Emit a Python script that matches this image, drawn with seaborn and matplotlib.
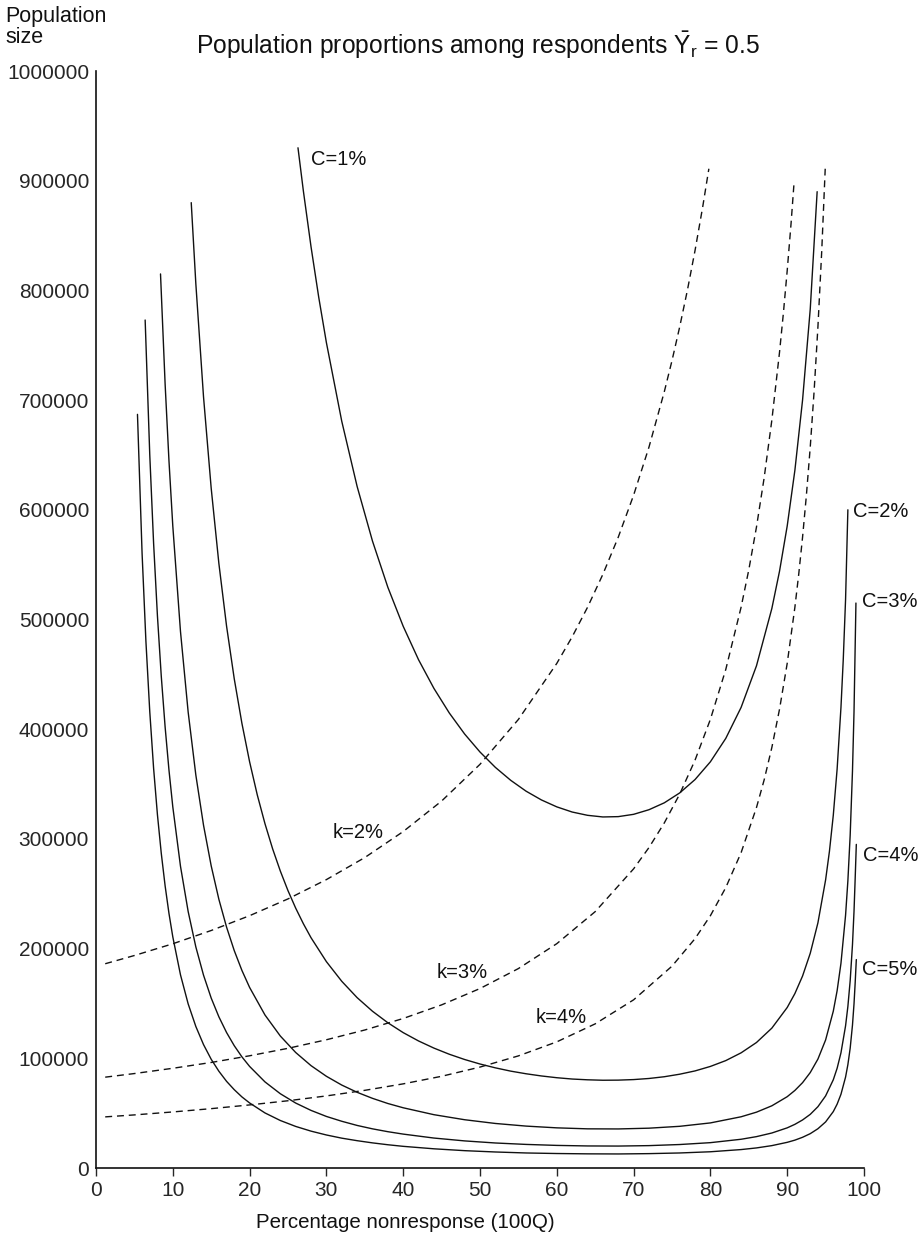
import pandas as pd
import matplotlib
matplotlib.use('Agg')
import matplotlib.pyplot as plt
import seaborn as sns

# solid curves: C = 1% .. 5%  (x = percentage nonresponse, y = population size)
c1_x = [26.3, 27, 28, 29, 30, 32, 34, 36, 38, 40, 42, 44, 46, 48, 50, 52, 54, 56, 58, 60, 62, 64, 66, 68, 70, 72,
        74, 76, 78, 80, 82, 84, 86, 88, 89, 90, 91, 92, 93, 93.9]
c1_y = [930000, 890700, 839700, 793800, 752400, 680700, 621300, 571500, 529400, 493800, 463300, 437200, 414800,
        395600, 379200, 365200, 353400, 343500, 335500, 329200, 324500, 321500, 320000, 320300, 322400, 326600,
        332900, 341900, 354100, 370300, 391600, 419900, 457800, 510000, 544000, 585200, 636000, 700000, 782900,
        890000]

c2_x = [12.4, 13, 14, 15, 16, 17, 18, 19, 20, 21, 22, 23, 24, 25, 26, 27, 28, 30, 32, 34, 36, 38, 40, 42, 44, 46,
        48, 50, 52, 54, 56, 58, 60, 62, 64, 66, 68, 70, 72, 74, 76, 78, 80, 82, 84, 86, 88, 90, 91, 92, 93, 94, 95,
        95.5, 96, 96.5, 97, 97.3, 97.6, 97.9]
c2_y = [880000, 806000, 703000, 619600, 551000, 494000, 446000, 405300, 370300, 340100, 313900, 290900, 270700,
        252800, 236900, 222700, 209900, 188100, 170200, 155300, 142900, 132400, 123400, 115800, 109300, 103700,
        98900, 94800, 91300, 88300, 85900, 83900, 82300, 81100, 80400, 80000, 80100, 80600, 81600, 83200, 85500,
        88500, 92600, 97900, 105000, 114400, 127500, 146300, 159000, 175000, 195700, 223500, 262600, 288700,
        321500, 363600, 419800, 463600, 518300, 600000]

c3_x = [8.4, 9, 9.5, 10, 11, 12, 13, 14, 15, 16, 17, 18, 19, 20, 22, 24, 26, 28, 30, 32, 34, 36, 38, 40, 44, 48,
        52, 56, 60, 64, 68, 72, 76, 80, 84, 86, 88, 90, 91, 92, 93, 94, 95, 96, 96.5, 97, 97.6, 97.9, 98.2, 98.5,
        98.7, 98.95]
c3_y = [815000, 714600, 644800, 585200, 489100, 415600, 358200, 312500, 275400, 244900, 219600, 198200, 180100,
        164600, 139500, 120300, 105300, 93300, 83600, 75600, 69000, 63500, 58800, 54900, 48600, 44000, 40600,
        38200, 36600, 35700, 35600, 36300, 38000, 41100, 46700, 50900, 56700, 65000, 70700, 77800, 87000, 99300,
        116700, 142900, 161600, 186600, 230400, 261700, 303400, 361900, 415900, 515000]

c4_x = [6.4, 7, 7.5, 8, 8.5, 9, 9.5, 10, 11, 12, 13, 14, 15, 16, 17, 18, 19, 20, 22, 24, 26, 28, 30, 32, 34, 36,
        38, 40, 44, 48, 52, 56, 60, 64, 68, 72, 76, 80, 84, 86, 88, 90, 91, 92, 93, 94, 95, 96, 96.5, 97, 97.6,
        97.9, 98.2, 98.5, 98.7, 98.85, 99.0]
c4_y = [773000, 650200, 569500, 503200, 448200, 402000, 362800, 329200, 275100, 233800, 201500, 175800, 154900,
        137800, 123500, 111500, 101300, 92600, 78500, 67700, 59200, 52500, 47000, 42600, 38800, 35700, 33100,
        30900, 27300, 24700, 22800, 21500, 20600, 20100, 20000, 20400, 21400, 23100, 26200, 28600, 31900, 36600,
        39800, 43800, 48900, 55900, 65700, 80400, 90900, 105000, 129600, 147200, 170700, 203600, 234000, 263700,
        295000]

c5_x = [5.4, 6, 6.5, 7, 7.5, 8, 8.5, 9, 9.5, 10, 11, 12, 13, 14, 15, 16, 17, 18, 19, 20, 22, 24, 26, 28, 30, 32,
        34, 36, 38, 40, 44, 48, 52, 56, 60, 64, 68, 72, 76, 80, 84, 86, 88, 90, 91, 92, 93, 94, 95, 96, 96.5, 97,
        97.6, 97.9, 98.2, 98.5, 98.7, 98.85, 99.0]
c5_y = [687000, 560300, 480000, 416100, 364400, 322000, 286800, 257200, 232100, 210700, 176100, 149600, 129000,
        112500, 99100, 88200, 79000, 71400, 64800, 59300, 50200, 43300, 37900, 33600, 30100, 27200, 24900, 22900,
        21200, 19750, 17500, 15800, 14600, 13700, 13200, 12900, 12800, 13100, 13700, 14800, 16800, 18300, 20400,
        23400, 25400, 28000, 31300, 35800, 42000, 51400, 58200, 67200, 82900, 94200, 109200, 130300, 149700,
        168700, 190000]

# dashed curves: k = 2%, 3%, 4%
k2_x = [1.2, 5, 10, 15, 20, 25, 30, 35, 40, 45, 50, 55, 60, 62, 64, 66, 68, 70, 72, 74, 75, 76, 77, 78, 79, 79.8]
k2_y = [186200, 193700, 204400, 216500, 230000, 245300, 262900, 283000, 306700, 334500, 368000, 408900, 460000,
        484200, 511100, 541200, 575000, 613300, 657100, 707700, 736000, 766700, 800000, 836400, 876200, 910900]

k3_x = [1.2, 5, 10, 15, 20, 25, 30, 35, 40, 45, 50, 55, 60, 65, 70, 72, 74, 76, 78, 80, 82, 84, 85, 86, 87, 88,
        89, 89.5, 90, 90.5, 90.9]
k3_y = [82800, 86100, 90900, 96200, 102300, 109100, 116900, 125800, 136300, 148700, 163600, 181800, 204500,
        233700, 272700, 292100, 314600, 340800, 371800, 409000, 454400, 511300, 545300, 584300, 629200, 681700,
        743600, 779000, 818000, 860800, 898900]

k4_x = [1.2, 5, 10, 15, 20, 25, 30, 35, 40, 45, 50, 55, 60, 65, 70, 75, 78, 80, 82, 84, 86, 87, 88, 89, 90, 91,
        91.5, 92, 92.5, 93, 93.5, 94, 94.5, 94.95]
k4_y = [46600, 48400, 51100, 54100, 57500, 61300, 65700, 70800, 76700, 83600, 92000, 102200, 115000, 131400,
        153300, 184000, 209100, 230000, 255600, 287500, 328600, 353800, 383300, 418200, 460000, 511100, 541200,
        575000, 613300, 657100, 707700, 766700, 836400, 910900]

x_ticks = [0, 10, 20, 30, 40, 50, 60, 70, 80, 90, 100]
y_ticks = [0, 100000, 200000, 300000, 400000, 500000, 600000, 700000, 800000, 900000, 1000000]

solid = [(c1_x, c1_y), (c2_x, c2_y), (c3_x, c3_y), (c4_x, c4_y), (c5_x, c5_y)]
dashed = [(k2_x, k2_y), (k3_x, k3_y), (k4_x, k4_y)]

sns.set_style('white')
plt.rcParams['font.family'] = ['Liberation Sans', 'DejaVu Sans']
plt.rcParams['mathtext.fontset'] = 'custom'
plt.rcParams['mathtext.rm'] = 'Liberation Sans'
plt.rcParams['mathtext.it'] = 'Liberation Sans:italic'

fig = plt.figure(figsize=(9.19, 12.35), dpi=100)
ax = fig.add_axes([96 / 919, 67 / 1235, 768 / 919, 1097 / 1235])

for xs, ys in solid:
    df = pd.DataFrame({'q': xs, 'n': ys})
    sns.lineplot(data=df, x='q', y='n', ax=ax, color='#111111', lw=1.0, sort=False, estimator=None)

for xs, ys in dashed:
    df = pd.DataFrame({'q': xs, 'n': ys})
    sns.lineplot(data=df, x='q', y='n', ax=ax, color='#111111', lw=1.0, sort=False, estimator=None,
                 dashes=False, linestyle=(0, (5, 3.5)))

ax.set_xlim(0, 100)
ax.set_ylim(0, 1000000)
ax.set_xticks(x_ticks)
ax.set_yticks(y_ticks)
ax.set_yticklabels([str(v) for v in y_ticks])
ax.tick_params(axis='x', length=6, width=1, direction='out', labelsize=15, pad=3, bottom=True)
ax.tick_params(axis='y', length=0, labelsize=15, pad=5)
ax.set_xlabel('')
ax.set_ylabel('')
for s in ['top', 'right']:
    ax.spines[s].set_visible(False)
for s in ['left', 'bottom']:
    ax.spines[s].set_linewidth(1.2)
    ax.spines[s].set_color('#111111')

lab = dict(fontsize=14.5, color='#111111', va='center', ha='left')
ax.text(28.0, 919000, 'C=1%', **lab)
ax.text(98.6, 598000, 'C=2%', **lab)
ax.text(99.7, 516000, 'C=3%', **lab)
ax.text(99.9, 285000, 'C=4%', **lab)
ax.text(99.7, 181000, 'C=5%', **lab)
ax.text(30.8, 306000, 'k=2%', **lab)
ax.text(44.3, 178000, 'k=3%', **lab)
ax.text(57.3, 137000, 'k=4%', **lab)

fig.text(478 / 919, 1 - 45 / 1235, r'Population proportions among respondents $\mathrm{\bar{Y}_r}$ = 0.5',
         fontsize=17.7, ha='center', va='center', color='#111111')
fig.text(5 / 919, 1 - 6 / 1235, 'Population\nsize', fontsize=15.5, ha='left', va='top',
         linespacing=1.0, color='#111111')
fig.text(405 / 919, 1 - 1222 / 1235, 'Percentage nonresponse (100Q)', fontsize=14.8, ha='center',
         va='center', color='#111111')

fig.savefig('out.png', dpi=100)
